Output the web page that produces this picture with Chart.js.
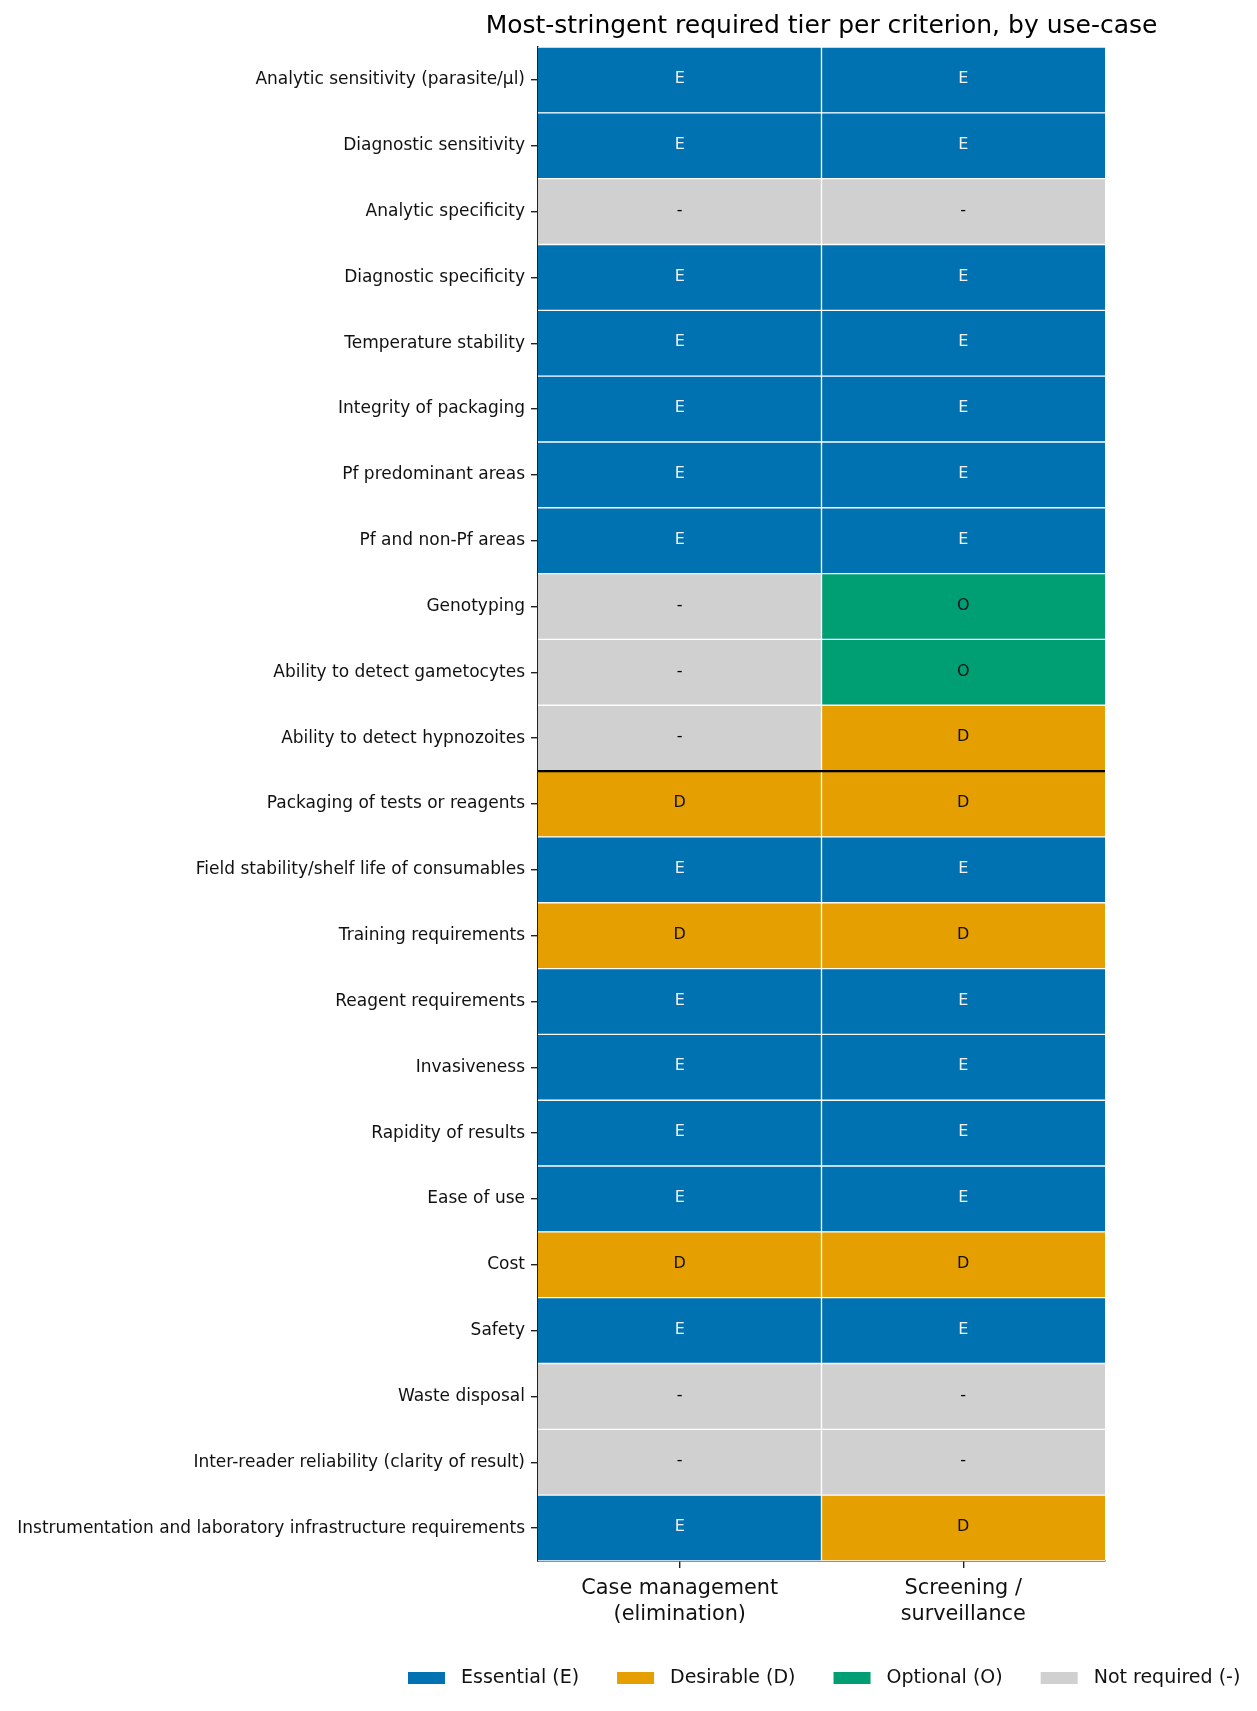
<!DOCTYPE html>
<html>
<head>
<meta charset="utf-8">
<script src="https://cdn.jsdelivr.net/npm/chart.js@4.4.1/dist/chart.umd.min.js"></script>
<style>
  html, body { margin: 0; padding: 0; background: #fff; }
</style>
</head>
<body>
<canvas id="myChart" width="1257" height="1711"></canvas>
<script>
const criteria = [
    'Analytic sensitivity (parasite/μl)',
    'Diagnostic sensitivity',
    'Analytic specificity',
    'Diagnostic specificity',
    'Temperature stability',
    'Integrity of packaging',
    'Pf predominant areas',
    'Pf and non-Pf areas',
    'Genotyping',
    'Ability to detect gametocytes',
    'Ability to detect hypnozoites',
    'Packaging of tests or reagents',
    'Field stability/shelf life of consumables',
    'Training requirements',
    'Reagent requirements',
    'Invasiveness',
    'Rapidity of results',
    'Ease of use',
    'Cost',
    'Safety',
    'Waste disposal',
    'Inter-reader reliability (clarity of result)',
    'Instrumentation and laboratory infrastructure requirements'
];
const useCases = [['Case management', '(elimination)'], ['Screening /', 'surveillance']];
const caseManagement = ['E', 'E', '-', 'E', 'E', 'E', 'E', 'E', '-', '-', '-', 'D', 'E', 'D', 'E', 'E', 'E', 'E', 'D', 'E', '-', '-', 'E'];
const screening      = ['E', 'E', '-', 'E', 'E', 'E', 'E', 'E', 'O', 'O', 'D', 'D', 'E', 'D', 'E', 'E', 'E', 'E', 'D', 'E', '-', '-', 'D'];
const tierCodes = ['E', 'D', 'O', '-'];
const tierNames = ['Essential (E)', 'Desirable (D)', 'Optional (O)', 'Not required (-)'];
const groupBreakAfter = 'Ability to detect hypnozoites';
const chartTitle = 'Most-stringent required tier per criterion, by use-case';

const columns = [caseManagement, screening];
const FONT = '"DejaVu Sans", sans-serif';
const tierColors = { 'E': '#0072B2', 'D': '#E69F00', 'O': '#009E73', '-': '#D0D0D0' };
const tierText = { 'E': '#f0f0f0', 'D': '#111', 'O': '#111', '-': '#000' };

// cell letters + the black line between the two criterion groups
const cellLabels = {
    id: 'cellLabels',
    afterDatasetsDraw(chart) {
        const { ctx, chartArea } = chart;
        const x = chart.scales.x, y = chart.scales.y;
        ctx.save();
        ctx.font = '16px ' + FONT;
        ctx.textAlign = 'center';
        ctx.textBaseline = 'middle';
        columns.forEach((col, c) => {
            col.forEach((tier, i) => {
                ctx.fillStyle = tierText[tier];
                ctx.fillText(tier, x.getPixelForValue(c + 0.5), y.getPixelForValue(i) - 1);
            });
        });
        const b = criteria.indexOf(groupBreakAfter);
        const yb = (y.getPixelForValue(b) + y.getPixelForValue(b + 1)) / 2;
        ctx.strokeStyle = '#000';
        ctx.lineWidth = 2.2;
        ctx.beginPath();
        ctx.moveTo(chartArea.left, yb);
        ctx.lineTo(chartArea.right, yb);
        ctx.stroke();
        ctx.restore();
    }
};

// title centred over the plot area, and the tier legend (colours are per cell, not per dataset)
const titleAndLegend = {
    id: 'titleAndLegend',
    afterDraw(chart) {
        const { ctx, chartArea } = chart;
        ctx.save();
        ctx.fillStyle = '#000';
        ctx.font = '25px ' + FONT;
        ctx.textAlign = 'center';
        ctx.textBaseline = 'alphabetic';
        ctx.fillText(chartTitle, (chartArea.left + chartArea.right) / 2, 33);

        ctx.font = '19px ' + FONT;
        ctx.textAlign = 'left';
        ctx.textBaseline = 'middle';
        let xPos = 408;
        const yMid = 1678;
        tierCodes.forEach((code, k) => {
            ctx.fillStyle = tierColors[code];
            ctx.fillRect(xPos, yMid - 6, 37, 12);
            xPos += 37 + 16;
            ctx.fillStyle = '#111';
            ctx.fillText(tierNames[k], xPos, yMid);
            xPos += ctx.measureText(tierNames[k]).width + 38;
        });
        ctx.restore();
    }
};

var ctx = document.getElementById('myChart').getContext('2d');
var myChart = new Chart(ctx, {
    type: 'bar',
    data: {
        labels: criteria,
        datasets: useCases.map((uc, c) => ({
            label: uc.join(' '),
            data: criteria.map(() => [c, c + 1]),
            backgroundColor: columns[c].map(t => tierColors[t]),
            borderColor: '#ffffff',
            borderWidth: c === 0 ? { left: 0, right: 1, top: 1, bottom: 1 } : { left: 1, right: 0, top: 1, bottom: 1 },
            borderSkipped: false,
            grouped: false,
            barPercentage: 1,
            categoryPercentage: 1
        }))
    },
    options: {
        indexAxis: 'y',
        responsive: false,
        devicePixelRatio: 1,
        animation: false,
        layout: { padding: { left: 0, right: 152, top: 47, bottom: 0 } },
        plugins: {
            legend: { display: false },
            tooltip: { enabled: false },
            title: { display: false }
        },
        scales: {
            x: {
                type: 'linear',
                min: 0,
                max: 2,
                z: 1,
                afterBuildTicks: s => { s.ticks = useCases.map((_, c) => ({ value: c + 0.5 })); },
                afterFit: s => { s.height = 150; },
                ticks: {
                    callback: (v, i) => useCases[i],
                    font: { family: FONT, size: 20.8, lineHeight: 1.25 },
                    color: '#111',
                    padding: 8,
                    maxRotation: 0,
                    autoSkip: false
                },
                grid: { drawOnChartArea: false, drawTicks: true, tickLength: 7, color: '#222', lineWidth: 1.4 },
                border: { display: true, color: '#222', width: 1.4 }
            },
            y: {
                z: 1,
                afterFit: s => { s.width = 538; },
                ticks: {
                    font: { family: FONT, size: 17 },
                    color: '#111',
                    padding: 6,
                    autoSkip: false
                },
                grid: { offset: false, drawOnChartArea: false, drawTicks: true, tickLength: 7, color: '#222', lineWidth: 1.4 },
                border: { display: true, color: '#222', width: 1.4 }
            }
        }
    },
    plugins: [cellLabels, titleAndLegend]
});
</script>
</body>
</html>
